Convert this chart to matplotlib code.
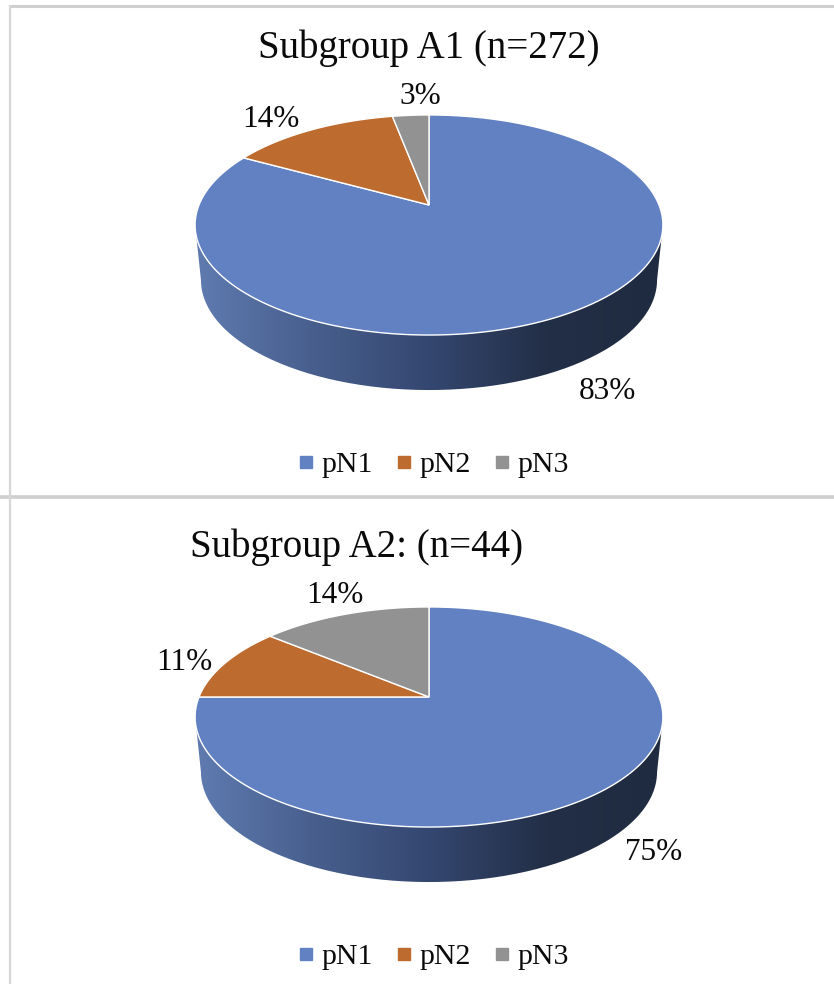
import numpy as np
import matplotlib
matplotlib.use("Agg")
import matplotlib.pyplot as plt
from matplotlib.colors import LinearSegmentedColormap
from matplotlib.lines import Line2D
from matplotlib.patches import PathPatch
from matplotlib.path import Path

plt.rcParams['font.family'] = ['Liberation Serif', 'DejaVu Serif']

# chart data
categories = ["pN1", "pN2", "pN3"]
titles = ["Subgroup A1 (n=272)", "Subgroup A2: (n=44)"]
values_a1 = [83, 14, 3]
values_a2 = [75, 11, 14]
colors = ["#6281C3", "#BD6B2E", "#929292"]

# figure is laid out in pixels of the reference
W, H = 834, 984
CX = 429
A, B, K = 230.0, 106.4, 0.1818   # perspective of the pie top
DEPTH, SHRINK = 55, 0.975        # pie wall
wall_cmap = LinearSegmentedColormap.from_list(
    "wall", ["#5F7BB0", "#485F8E", "#344770", "#232F47", "#1F2B40"])


def rim(theta, apex_y):
    # theta is clockwise from the top of the disc, the perspective moves the apex upward
    u, v = np.sin(theta), np.cos(theta)
    d = 1 + K * v
    return CX + A * u / d, apex_y - B * v / d


def draw_panel(ax, values, title, title_x, title_y, apex_y, label_pos, legend_y):
    # wall below the front of the rim
    t = np.linspace(np.pi / 2 + np.arcsin(K), 3 * np.pi / 2 - np.arcsin(K), 200)
    x, y = rim(t, apex_y)
    x2 = CX + (x - CX) * SHRINK
    y2 = y + DEPTH
    px = np.r_[x, x2[::-1]]
    py = np.r_[y, y2[::-1]]
    im = ax.imshow(np.linspace(0, 1, 256).reshape(1, -1), cmap=wall_cmap, aspect='auto',
                   extent=[CX - 234, CX + 234, apex_y + 190, apex_y], zorder=1)
    clip = PathPatch(Path(np.c_[px, py]), transform=ax.transData, fc='none', ec='none')
    ax.add_patch(clip)
    im.set_clip_path(clip)

    # top of the pie, clockwise from 12 o'clock
    edges = np.r_[0, np.cumsum(values)] / np.sum(values) * 2 * np.pi
    for i in range(len(values)):
        t = np.linspace(edges[i], edges[i + 1], 200)
        x, y = rim(t, apex_y)
        ax.fill(np.r_[CX, x], np.r_[apex_y, y], color=colors[i], ec='white', lw=1.0, zorder=2)

    for v, (lx, ly) in zip(values, label_pos):
        ax.text(lx, ly, "%d%%" % v, fontsize=22.5, color='#0A0A0A', ha='center', va='baseline', zorder=3)

    ax.text(title_x, title_y, title, fontsize=28, color='#0A0A0A', ha='center', va='baseline')

    handles = [Line2D([], [], ls='none', marker='s', ms=9, color=c) for c in colors]
    leg = ax.legend(handles, categories, loc='center', bbox_to_anchor=(433, legend_y),
                    bbox_transform=ax.transData, ncol=3, frameon=False, fontsize=21.5,
                    handlelength=0.6, handletextpad=0.22, columnspacing=0.74, labelcolor='#0A0A0A')
    return leg


fig = plt.figure(figsize=(W / 100, H / 100), dpi=100, facecolor='white')
ax1 = fig.add_axes([0, 0, 1, 1])
ax2 = fig.add_axes([0, 0, 1, 1], facecolor='none')
for ax in (ax1, ax2):
    ax.set_xlim(0, W)
    ax.set_ylim(H, 0)
    ax.axis('off')

draw_panel(ax1, values_a1, titles[0], 429, 58, 205,
           [(607, 399), (271, 127), (420, 104)], 464.5)
draw_panel(ax2, values_a2, titles[1], 357, 557, 697,
           [(654, 860), (184, 670), (335, 603)], 956.5)

for ax in (ax1, ax2):
    ax.set_xlim(0, W)
    ax.set_ylim(H, 0)

# panel frame lines
ax1.plot([10, W], [5.5, 5.5], color='#CFCFCF', lw=2.2, solid_capstyle='butt', zorder=0)
ax1.plot([0, W], [496.5, 496.5], color='#CFCFCF', lw=2.6, solid_capstyle='butt', zorder=0)
ax1.plot([10.5, 10.5], [5, H], color='#D6D6D6', lw=1.6, solid_capstyle='butt', zorder=0)

fig.savefig("out.png", dpi=100)
